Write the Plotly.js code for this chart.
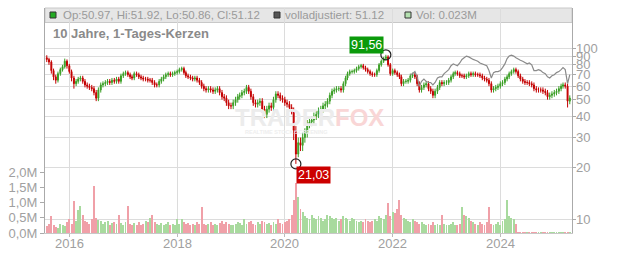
<!DOCTYPE html>
<html>
<head>
<meta charset="utf-8">
<script src="https://cdn.plot.ly/plotly-3.0.1.min.js"></script>
<style>
  html, body { margin: 0; padding: 0; background: #fff; }
  #chart { width: 632px; height: 253px; }
</style>
</head>
<body>
<div id="chart"></div>
<script>
// ---- data: half-monthly candles (1st and 16th of each month, from 2015-08-01) ----
const dates = [];
(function(){ let y = 2015, mo = 8; for (let k = 0; k < 234; k++) { dates.push(y + '-' + String(mo).padStart(2,'0') + (k % 2 ? '-16' : '-01')); if (k % 2) { mo++; if (mo > 12) { mo = 1; y++; } } } })();

const open = [
  88,86,83,74,68,65,71,75,78,84, 79,73,67,62,64,66,67,64,61,60, 59,58,55,51,57,61,62,63,64,63,
  65,64,66,64,69,71,72,70,68,67, 71,70,68,67,66,66,65,65,63,61, 61,64,66,68,70,71,70,71,72,73,
  75,76,72,69,68,67,66,67,65,63, 60,58,57,58,57,56,57,58,55,52, 51,48,46,46,48,50,52,53,55,56,
  59,56,52,48,47,48,49,44,41,44, 46,45,50,54,53,51,50,48,47,45, 43,33,24,28,27,30,32,36,37,38,
  40,41,43,44,46,47,49,53,56,57, 58,58,57,62,67,71,73,73,74,76, 78,79,77,75,73,71,70,70,74,80,
  84,87,89,80,71,74,72,70,68,62, 64,64,65,69,70,68,62,57,59,61, 62,58,56,53,56,59,63,62,63,63,
  65,68,71,72,71,69,69,68,69,71, 70,71,70,70,69,67,66,65,62,57, 58,59,60,62,63,66,68,71,73,75,
  73,69,66,64,63,63,62,61,58,57, 57,57,56,55,52,53,54,55,56,58, 60,61,60,49];
const high = [
  91,88,85,76,70,73,77,80,87,86, 81,75,69,66,68,69,69,66,63,62, 61,60,57,59,63,64,65,66,66,67,
  67,68,68,71,73,74,74,72,70,73, 73,72,70,69,68,68,67,67,65,63, 66,68,70,72,73,73,73,74,75,77,
  78,78,74,71,70,69,69,69,67,65, 62,60,60,60,59,59,60,60,57,54, 53,50,48,50,52,54,55,57,58,61,
  61,58,54,50,50,51,51,46,46,48, 48,52,56,56,55,53,52,50,49,47, 45,35,30,30,32,34,38,39,40,42,
  43,45,46,48,49,51,55,58,59,60, 60,60,64,69,73,75,75,76,78,80, 81,81,79,77,75,73,72,76,82,86,
  89,91.56,91,82,76,76,74,72,70,66, 66,67,71,72,72,70,64,61,63,64, 64,60,58,58,61,65,65,65,65,67,
  70,73,74,74,73,71,71,71,73,73, 73,73,72,72,71,69,68,67,64,60, 61,62,64,65,68,70,73,75,77,77,
  75,71,68,66,65,65,64,63,60,59, 59,59,58,57,55,56,57,58,60,62, 63,63,62,53];
const low = [
  83,80,71,65,62,63,69,73,76,76, 71,64,58,60,62,64,62,59,58,57, 56,53,49,49,55,59,60,61,61,61,
  62,62,62,62,67,69,68,66,65,65, 68,66,65,64,64,63,63,61,59,59, 59,62,64,66,68,68,68,69,70,71,
  73,70,67,66,65,64,64,63,61,58, 56,55,55,55,54,54,55,53,50,49, 46,44,44,44,46,48,50,51,53,54,
  54,50,46,45,45,46,42,39,39,42, 43,43,48,51,49,48,46,45,43,41, 29,21.03,23,25,25,28,30,34,35,36,
  38,39,41,42,44,45,47,51,54,55, 56,55,55,60,65,69,71,71,72,74, 76,75,73,71,69,68,68,68,72,78,
  82,85,78,69,69,70,68,66,60,60, 62,62,63,67,66,60,55,55,57,59, 56,54,51,51,54,57,60,60,61,61,
  63,66,69,69,67,67,66,66,67,68, 68,68,68,67,65,64,63,60,55,55, 56,57,58,60,61,64,66,69,71,71,
  67,64,62,61,61,60,59,56,55,55, 55,54,53,50,50,51,52,53,54,56, 58,58,45,47];
const close = [
  86,83,74,68,65,71,75,78,84,79, 73,67,62,64,66,67,64,61,60,59, 58,55,51,57,61,62,63,64,63,65,
  64,66,64,69,71,72,70,68,67,71, 70,68,67,66,66,65,65,63,61,61, 64,66,68,70,71,70,71,72,73,75,
  76,72,69,68,67,66,67,65,63,60, 58,57,58,57,56,57,58,55,52,51, 48,46,46,48,50,52,53,55,56,59,
  56,52,48,47,48,49,44,41,44,46, 45,50,54,53,51,50,48,47,45,43, 33,24,28,27,30,32,36,37,38,40,
  41,43,44,46,47,49,53,56,57,58, 58,57,62,67,71,73,73,74,76,78, 79,77,75,73,71,70,70,74,80,84,
  87,89,80,71,74,72,70,68,62,64, 64,65,69,70,68,62,57,59,61,62, 58,56,53,56,59,63,62,63,63,65,
  68,71,72,71,69,69,68,69,71,70, 71,70,70,69,67,66,65,62,57,58, 59,60,62,63,66,68,71,73,75,73,
  69,66,64,63,63,62,61,58,57,57, 57,56,55,52,53,54,55,56,58,60, 61,60,49,51.12];
// volume in millions
const volume = [
  0.22,0.30,0.55,0.25,0.20,0.15,0.30,0.28,0.22,0.35, 0.45,0.30,1.05,0.40,0.75,0.90,0.60,0.40,0.35,0.30,
  0.45,1.54,0.50,0.42,0.38,0.30,0.35,0.40,0.28,0.32, 0.35,0.30,0.60,0.32,0.28,0.35,0.90,0.30,0.25,0.32,
  0.28,0.35,0.25,0.30,0.40,0.35,0.48,0.60,0.35,0.30, 0.28,0.32,0.25,0.30,0.35,0.28,0.30,0.25,0.45,0.30,
  0.45,0.35,0.30,0.32,0.25,0.30,0.28,0.35,0.30,0.85, 0.30,0.25,0.30,0.35,0.28,0.30,0.25,0.32,0.38,0.30,
  0.35,0.30,0.28,0.25,0.30,0.35,0.32,0.28,0.45,0.30, 0.35,0.40,0.30,0.28,0.35,0.30,0.40,0.35,0.30,0.32,
  0.28,0.35,0.30,0.45,0.32,0.30,0.35,0.40,0.45,0.60, 1.10,1.66,1.20,0.80,0.70,0.55,0.50,0.45,0.60,0.50,
  0.45,0.55,0.50,0.40,0.45,0.60,0.55,0.50,0.45,0.50, 0.40,0.45,0.55,0.50,0.45,0.40,0.50,0.45,0.40,0.35,
  0.40,0.35,0.45,0.40,0.35,0.40,0.45,0.40,0.55,0.50, 0.45,0.60,1.00,0.55,0.70,0.65,0.80,1.10,0.60,0.50,
  0.45,0.40,0.35,0.45,0.40,0.35,0.30,0.35,0.30,0.28, 0.30,0.25,0.35,0.28,0.30,0.25,0.60,0.30,0.28,0.25,
  0.30,0.35,0.28,0.25,0.30,0.85,0.60,0.55,0.50,0.40, 0.35,0.30,0.28,0.35,0.30,0.28,0.35,0.85,0.30,0.28,
  0.30,0.35,0.28,0.40,0.45,1.10,0.55,0.50,0.45,0.30, 0.02,0.02,0.02,0.02,0.02,0.03,0.02,0.02,0.02,0.02,
  0.02,0.02,0.02,0.03,0.02,0.02,0.02,0.02,0.03,0.03, 0.02,0.03,0.03,0.02];
// volume-adjusted line (visible where it leaves the candles, from 2022-05-01)
const adjStart = '2022-05-01';
const adjValues = [70,71,73,68,60,64,66,64,63,63, 61,63,67,68,68,71,73,75,79,81, 80,79,82,86,88,90,89,87,86,85,
  84,82,81,80,79,74,67,72,73,73, 74,77,81,87,90,91,90,88,86,85, 84,82,81,82,80,74,74,75,74,72,
  71,68,67,69,70,72,73,75,77,75, 62,70];

const volTickVals = [0, 0.5, 1.0, 1.5, 2.0];
const volTickText = ['0,0M', '0,5M', '1,0M', '1,5M', '2,0M'];
const priceTickVals = [10,20,30,40,50,60,70,80,90,100];
const yearTicks = ['2016-01-01','2018-01-01','2020-01-01','2022-01-01','2024-01-01'];
const yearLabels = ['2016','2018','2020','2022','2024'];
const legendOHLC = 'Op:50.97, Hi:51.92, Lo:50.86, Cl:51.12';
const legendAdj = 'volladjustiert: 51.12';
const legendVol = 'Vol: 0.023M';
const chartTitle = '10 Jahre, 1-Tages-Kerzen';

// ---- layout helpers (pixel -> paper) ----
const W = 632, H = 253, L = 45, R = 572, T = 8, B = 233;
const px = x => (x - L) / (R - L);
const py = y => (B - y) / (B - T);

const upCol = '#3b9f26', dnCol = '#c40000';
const volColors = close.map((c, i) => c >= open[i] ? 'rgb(168,218,158)' : 'rgb(240,160,168)');
const adjDates = dates.slice(dates.indexOf(adjStart));

let iMax = 0, iMin = 0;
high.forEach((v, i) => { if (v > high[iMax]) iMax = i; });
low.forEach((v, i) => { if (v < low[iMin]) iMin = i; });
const fmt = v => v.toFixed(2).replace('.', ',');

const traces = [
  { type: 'bar', x: dates, y: volume.map(v => v * 1e6), marker: { color: volColors, line: { width: 0 } },
    width: 13 * 86400000, xaxis: 'x', yaxis: 'y', hoverinfo: 'skip' },
  { type: 'scatter', mode: 'lines', x: adjDates, y: adjValues, line: { color: '#8a8a8a', width: 1.2 },
    xaxis: 'x', yaxis: 'y2', hoverinfo: 'skip' },
  { type: 'candlestick', x: dates, open: open, high: high, low: low, close: close,
    increasing: { line: { color: upCol, width: 1 }, fillcolor: upCol },
    decreasing: { line: { color: dnCol, width: 1 }, fillcolor: dnCol },
    whiskerwidth: 0, xaxis: 'x', yaxis: 'y2', hoverinfo: 'skip' },
  { type: 'scatter', mode: 'markers', x: [dates[iMax], dates[iMin]], y: [high[iMax], low[iMin]],
    marker: { symbol: 'circle-open', size: 10, color: '#222', line: { width: 1.2 } },
    xaxis: 'x', yaxis: 'y2', hoverinfo: 'skip' }
];

const ann = [];
const shapes = [];
const fam = 'Liberation Sans, Arial, sans-serif';
// legend bar
shapes.push({ type: 'rect', xref: 'paper', yref: 'paper', x0: 0, x1: 1, y0: py(22.5), y1: 1,
  fillcolor: '#e6e6e6', line: { color: '#c8c8c8', width: 1 }, layer: 'below' });
shapes.push({ type: 'rect', xref: 'paper', yref: 'paper', x0: px(50), x1: px(56), y0: py(18), y1: py(12),
  fillcolor: '#22aa22', line: { color: '#333', width: 1 } });
shapes.push({ type: 'rect', xref: 'paper', yref: 'paper', x0: px(274), x1: px(280), y0: py(18), y1: py(12),
  fillcolor: '#555', line: { color: '#333', width: 1 } });
shapes.push({ type: 'rect', xref: 'paper', yref: 'paper', x0: px(405), x1: px(411), y0: py(18), y1: py(12),
  fillcolor: '#b4e0b0', line: { color: '#333', width: 1 } });
const legFont = { family: fam, size: 11.5, color: '#9a9a9a' };
ann.push({ xref: 'paper', yref: 'paper', x: px(61), y: py(15.5), xanchor: 'left', yanchor: 'middle', text: legendOHLC, showarrow: false, font: legFont });
ann.push({ xref: 'paper', yref: 'paper', x: px(283), y: py(15.5), xanchor: 'left', yanchor: 'middle', text: legendAdj, showarrow: false, font: legFont });
ann.push({ xref: 'paper', yref: 'paper', x: px(414), y: py(15.5), xanchor: 'left', yanchor: 'middle', text: legendVol, showarrow: false, font: legFont });
ann.push({ xref: 'paper', yref: 'paper', x: px(51), y: py(33), xanchor: 'left', yanchor: 'middle', text: '<b>' + chartTitle + '</b>', showarrow: false,
  font: { family: fam, size: 13, color: '#8a8a8a' } });
// year labels
const tickFont = { family: fam, size: 13, color: '#a0a0a0' };
yearTicks.forEach((d, i) => ann.push({ xref: 'x', yref: 'paper', x: d, y: py(243.5), xanchor: 'center', yanchor: 'middle',
  text: yearLabels[i], showarrow: false, font: tickFont }));
// price labels on the right
priceTickVals.forEach(v => ann.push({ xref: 'paper', yref: 'y2', x: px(574), y: Math.log10(v), xanchor: 'left', yanchor: 'middle',
  text: String(v), showarrow: false, font: tickFont }));
// watermark
ann.push({ xref: 'paper', yref: 'paper', x: px(309), y: py(117), xanchor: 'center', yanchor: 'middle',
  text: '<b><span style="color:#ececec">TRADER</span><span style="color:#f9d6d6">FOX</span></b>', showarrow: false,
  font: { family: fam, size: 24, color: '#ececec' } });
ann.push({ xref: 'paper', yref: 'paper', x: px(286), y: py(131.5), xanchor: 'center', yanchor: 'middle',
  text: '<b>REALTIME STOCK SCREENING</b>', showarrow: false,
  font: { family: fam, size: 5.5, color: '#eeeeee' } });
// extreme labels
ann.push({ xref: 'x', yref: 'y2', x: dates[iMax], y: Math.log10(high[iMax]), text: fmt(high[iMax]), showarrow: false,
  xanchor: 'center', yanchor: 'middle', xshift: -19, yshift: 10, bgcolor: '#0b9a0b', borderpad: 1,
  font: { family: fam, size: 12.5, color: '#fff' } });
ann.push({ xref: 'x', yref: 'y2', x: dates[iMin], y: Math.log10(low[iMin]), text: fmt(low[iMin]), showarrow: false,
  xanchor: 'center', yanchor: 'middle', xshift: 18, yshift: -11, bgcolor: '#cc0000', borderpad: 1,
  font: { family: fam, size: 12.5, color: '#fff' } });

const layout = {
  width: W, height: H,
  margin: { l: L, r: W - R, t: T, b: H - B, pad: 0 },
  paper_bgcolor: '#fff', plot_bgcolor: 'rgba(0,0,0,0)',
  showlegend: false, bargap: 0,
  xaxis: { type: 'date', range: ['2015-07-20', '2025-05-01'], tickvals: yearTicks, showticklabels: false,
    showgrid: true, gridcolor: '#dcdcdc', gridwidth: 1,
    ticks: 'outside', ticklen: 3, tickcolor: '#bbb', showline: true, linecolor: '#c8c8c8',
    rangeslider: { visible: false }, zeroline: false, fixedrange: true },
  yaxis: { range: [0, 7.42e6], tickvals: volTickVals.map(v => v * 1e6), ticktext: volTickText, side: 'left',
    showgrid: false, zeroline: false, ticks: 'outside', ticklen: 4, tickcolor: '#aaa', showline: true, linecolor: '#aaa',
    tickfont: tickFont, fixedrange: true },
  yaxis2: { type: 'log', overlaying: 'y', side: 'right', range: [0.9181, 2.2357], tickvals: priceTickVals,
    showticklabels: false, showgrid: true, gridcolor: '#dcdcdc', gridwidth: 1, zeroline: false,
    ticks: 'outside', ticklen: 3, tickcolor: '#aaa', showline: true, linecolor: '#aaa', fixedrange: true },
  shapes: shapes, annotations: ann
};
Plotly.newPlot('chart', traces, layout, { staticPlot: true, displayModeBar: false });
</script>
</body>
</html>
